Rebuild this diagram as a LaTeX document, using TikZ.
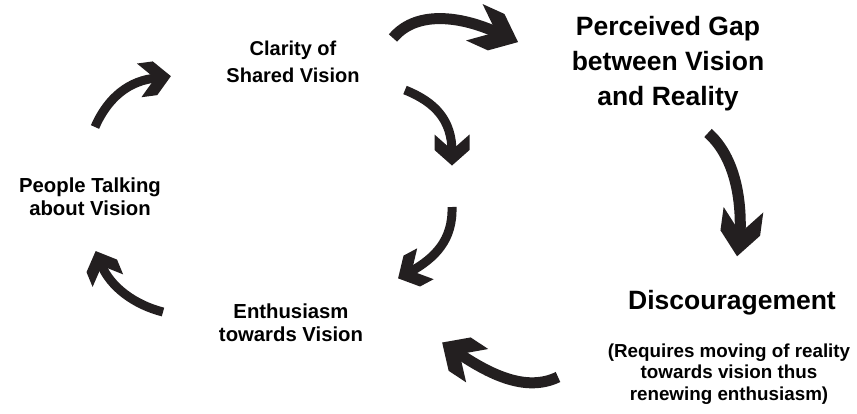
\documentclass[tikz,border=0pt]{standalone}
\usepackage{fontspec}
\setmainfont{Liberation Sans}
\definecolor{ink}{HTML}{231F20}
\tikzset{
  lbl/.style={align=center, font=\bfseries\fontsize{20}{24}\selectfont, text=black, inner sep=0pt},
  biglbl/.style={align=center, font=\bfseries\fontsize{26.5}{35}\selectfont, text=black, inner sep=0pt},
  notelbl/.style={align=center, font=\bfseries\fontsize{18.8}{21.5}\selectfont, text=black, inner sep=0pt},
  shaft/.style={draw=ink, line width=#1, line cap=butt, line join=round},
  headfill/.style={fill=ink},
}
% chevron head: #1 notch coordinate, #2 direction angle, #3 length, #4 width
\newcommand\chevhead[4]{%
  \fill[headfill, shift={(#1)}, rotate=#2]
    ({0.5*#3*1pt-2pt},0pt) -- ({-2pt},{0.5*#4*1pt}) -- ({-0.5*#3*1pt-2pt},{0.5*#4*1pt})
    -- ({-2pt},0pt) -- ({-0.5*#3*1pt-2pt},{-0.5*#4*1pt}) -- ({-2pt},{-0.5*#4*1pt}) -- cycle;}
\begin{document}
\begin{tikzpicture}[x=1pt,y=-1pt]
\useasboundingbox (0,0) rectangle (857,413);

% labels
\node[lbl, font=\bfseries\fontsize{20}{27}\selectfont] (clarity) at (293,62) {Clarity of\\Shared Vision};
\node[biglbl] (gap) at (668,64) {Perceived Gap\\between Vision\\and Reality};
\node[lbl, font=\bfseries\fontsize{20.3}{23}\selectfont] (people) at (90,197) {People Talking\\about Vision};
\node[lbl, font=\bfseries\fontsize{20.3}{23}\selectfont] (enth) at (291,323) {Enthusiasm\\towards Vision};
\node[biglbl] (disc) at (732,303) {Discouragement};
\node[notelbl] (note) at (729,374) {(Requires moving of reality\\towards vision thus\\renewing enthusiasm)};

% arrow end points (shaft start, shaft end at the head's notch)
\coordinate (a1s) at (95,127);  \coordinate (a1e) at (157,78);
\coordinate (a2s) at (393,38);  \coordinate (a2e) at (498,33);
\coordinate (a3s) at (405,90);  \coordinate (a3e) at (452,152);
\coordinate (a4s) at (452,207); \coordinate (a4e) at (410,272);
\coordinate (a5s) at (163,312); \coordinate (a5e) at (101,264);
\coordinate (a6s) at (708,133); \coordinate (a6e) at (740,235);
\coordinate (a7s) at (558,377); \coordinate (a7e) at (458,353);

% shafts
\draw[shaft=9pt]  (a1s) .. controls (108,97) and (130,80) .. (a1e);
\draw[shaft=11pt] (a2s) .. controls (418,8) and (466,18) .. (a2e);
\draw[shaft=9pt]  (a3s) .. controls (435,102) and (452,120) .. (a3e);
\draw[shaft=9pt]  (a4s) .. controls (453,240) and (435,258) .. (a4e);
\draw[shaft=9pt]  (a5s) .. controls (135,305) and (110,287) .. (a5e);
\draw[shaft=11pt] (a6s) .. controls (733,155) and (742,195) .. (a6e);
\draw[shaft=11pt] (a7s) .. controls (525,393) and (488,373) .. (a7e);

% heads
\chevhead{a1e}{7.6}{32}{34}
\chevhead{a2e}{-24.4}{48}{40}
\chevhead{a3e}{-90}{31}{35}
\chevhead{a4e}{208.1}{31}{35}
\chevhead{a5e}{112.4}{32}{33}
\chevhead{a6e}{262.2}{47}{40}
\chevhead{a7e}{146.5}{42}{40}
\end{tikzpicture}
\end{document}
